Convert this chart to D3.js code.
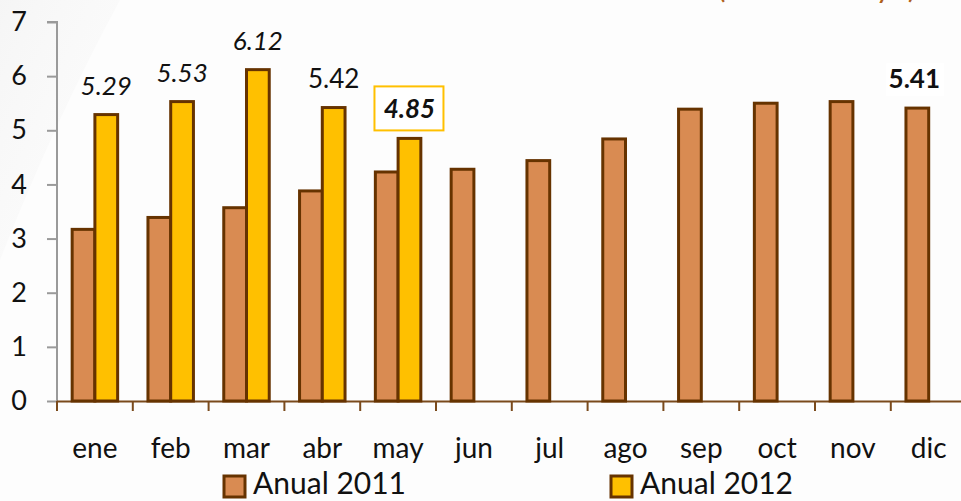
<!DOCTYPE html>
<html>
<head>
<meta charset="utf-8">
<script src="https://cdn.jsdelivr.net/npm/d3@7"></script>
<style>
  html, body { margin: 0; padding: 0; background: #fdfdfd; }
  svg { display: block; }
</style>
</head>
<body>
<svg id="chart" width="961" height="501"></svg>
<script>
const months = ["ene","feb","mar","abr","may","jun","jul","ago","sep","oct","nov","dic"];
const seriesNames = ["Anual 2011","Anual 2012"];
const values2011 = [3.17, 3.39, 3.57, 3.88, 4.23, 4.28, 4.44, 4.84, 5.39, 5.50, 5.53, 5.41];
const values2012 = [5.29, 5.53, 6.12, 5.42, 4.85, null, null, null, null, null, null, null];
const yTicks = [0,1,2,3,4,5,6,7];
const labels = [
  {s: 1, i: 0, style: "italic"},
  {s: 1, i: 1, style: "italic"},
  {s: 1, i: 2, style: "italic"},
  {s: 1, i: 3, style: "normal"},
  {s: 1, i: 4, style: "boxed"},
  {s: 0, i: 11, style: "bold"}
];
const subtitle = "(Anual a mayo)";

const colors = ["#D98B52", "#FFC000"];
const strokeCol = "#663300";
const font = "Lato, 'Open Sans', sans-serif";

const svg = d3.select("#chart");

// faint background swoosh
const defs = svg.append("defs");
const grad = defs.append("linearGradient").attr("id","sw").attr("x1","0").attr("y1","0").attr("x2","1").attr("y2","1");
grad.append("stop").attr("offset","0").attr("stop-color","#f2f2f2").attr("stop-opacity",0.7);
grad.append("stop").attr("offset","1").attr("stop-color","#f8f8f8").attr("stop-opacity",0.1);
svg.append("path").attr("d","M0,0 L120,0 Q55,120 0,260 Z").attr("fill","url(#sw)");

const x0 = d3.scaleBand().domain(months).range([57, 57 + 12 * 75.8]).paddingInner(0.4).paddingOuter(0.2);
const x1 = d3.scaleBand().domain([0,1]).range([0, x0.bandwidth()]);
const y = d3.scaleLinear().domain([0,7]).range([401, 22]);
const step = x0.step();

// subtitle (clipped at top, only descenders visible as in reference)
svg.append("text").attr("x", 916).attr("y", -2).attr("text-anchor","end")
  .attr("font-family", font).attr("font-size", 31).attr("fill","#B0601A").text(subtitle);

// y axis
const yAxis = d3.axisLeft(y).tickValues(yTicks).tickSize(10).tickPadding(20).tickFormat(d3.format("d"));
const gy = svg.append("g").attr("transform","translate(57,0)").call(yAxis);
gy.select(".domain").attr("stroke","#9a9a9a").attr("stroke-width",2).attr("d", `M-10,${y(7)}H0V${y(0)}`);
gy.selectAll(".tick line").attr("stroke","#9a9a9a").attr("stroke-width",2);
gy.selectAll(".tick text").attr("font-family", font).attr("font-size", 27).attr("fill","#111");

// x axis line & ticks
const gx = svg.append("g");
gx.append("line").attr("x1", 57).attr("x2", 961).attr("y1", y(0)+0.5).attr("y2", y(0)+0.5)
  .attr("stroke","#7a4a1c").attr("stroke-width",2);
const boundaries = months.map(m => x0(m) - step * 0.2);
gx.selectAll("line.tk").data(boundaries).join("line").attr("class","tk")
  .attr("x1", d => d).attr("x2", d => d).attr("y1", y(0)).attr("y2", y(0) + 10)
  .attr("stroke","#7a4a1c").attr("stroke-width",2);
gx.selectAll("text").data(months).join("text")
  .attr("x", m => x0(m) + x0.bandwidth()/2).attr("y", 458)
  .attr("text-anchor","middle").attr("font-family", font).attr("font-size", 28).attr("fill","#111")
  .text(m => m);

// bars
const allSeries = [values2011, values2012];
const barData = [];
allSeries.forEach((arr, s) => arr.forEach((v, i) => { if (v != null) barData.push({s, i, v}); }));
svg.append("g").selectAll("rect").data(barData).join("rect")
  .attr("x", d => x0(months[d.i]) + x1(d.s))
  .attr("y", d => y(d.v))
  .attr("width", x1.bandwidth())
  .attr("height", d => y(0) - y(d.v))
  .attr("fill", d => colors[d.s])
  .attr("stroke", strokeCol).attr("stroke-width", 3);

// data labels
const lg = svg.append("g");
labels.forEach(l => {
  const v = allSeries[l.s][l.i];
  const cx = x0(months[l.i]) + x1(l.s) + x1.bandwidth()/2;
  const by = y(v) - 20;
  if (l.style === "boxed") {
    lg.append("rect").attr("x", cx - 35).attr("y", by - 32).attr("width", 69).attr("height", 44)
      .attr("fill","#ffffff").attr("stroke","#FFC000").attr("stroke-width",2);
  }
  if (l.style === "bold") {
    lg.append("rect").attr("x", cx - 31).attr("y", by - 25).attr("width", 58).attr("height", 33).attr("fill","#ffffff");
  }
  lg.append("text").attr("x", l.style === "bold" ? cx - 3 : cx).attr("y", by)
    .attr("text-anchor","middle").attr("font-family", font).attr("font-size", 26).attr("fill","#111")
    .attr("font-style", (l.style === "italic" || l.style === "boxed") ? "italic" : "normal")
    .attr("font-weight", (l.style === "bold" || l.style === "boxed") ? "bold" : "normal")
    .text(d3.format(".2f")(v));
});

// legend
const legendX = [224, 611];
const leg = svg.append("g");
seriesNames.forEach((name, s) => {
  leg.append("rect").attr("x", legendX[s]).attr("y", 476).attr("width", 21).attr("height", 21)
    .attr("fill", colors[s]).attr("stroke", strokeCol).attr("stroke-width", 3);
  leg.append("text").attr("x", legendX[s] + 29).attr("y", 494)
    .attr("font-family", font).attr("font-size", 30).attr("fill","#111").text(name);
});
</script>
</body>
</html>
